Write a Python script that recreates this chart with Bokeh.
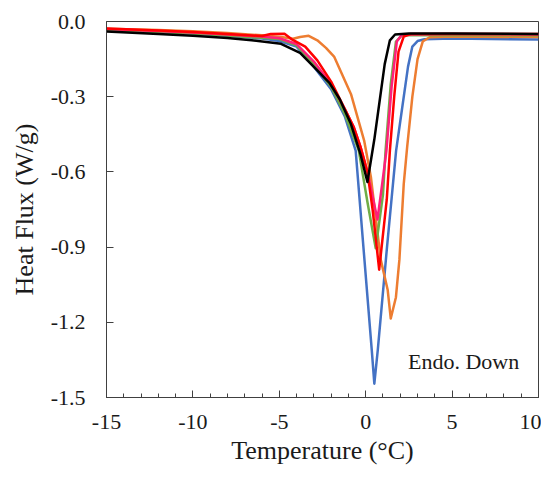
from bokeh.plotting import figure
from bokeh.models import Range1d, FixedTicker, PrintfTickFormatter, Label
from bokeh.embed import file_html
from bokeh.resources import INLINE

# ---- data ----
t_blue = [-15, -12, -10, -8, -6, -5, -4, -3, -2, -1.2, -0.58, -0.12, 0.35, 0.5, 0.7, 1.22, 1.76, 2.1, 2.45, 2.7, 3.0, 3.4, 5, 10]
hf_blue = [-0.035, -0.042, -0.048, -0.057, -0.068, -0.078, -0.1, -0.18, -0.27, -0.38, -0.515, -0.91, -1.31, -1.445, -1.31, -0.91, -0.515, -0.35, -0.18, -0.1, -0.078, -0.071, -0.068, -0.072]

t_orange = [-15, -12, -10, -8, -6, -4.8, -4.2, -3.8, -3.3, -2.8, -2.3, -1.83, -0.85, -0.09, 0.3, 0.87, 1.27, 1.45, 1.75, 1.95, 2.2, 2.4, 2.7, 3.0, 3.3, 3.7, 5, 10]
hf_orange = [-0.029, -0.034, -0.039, -0.046, -0.055, -0.063, -0.069, -0.062, -0.057, -0.075, -0.105, -0.14, -0.29, -0.475, -0.62, -0.95, -1.07, -1.185, -1.1, -0.95, -0.65, -0.5, -0.3, -0.15, -0.08, -0.063, -0.06, -0.062]

t_green = [-15, -12, -10, -8, -6, -5, -4, -3, -2, -1.2, -0.4, 0.1, 0.58, 1.0, 1.15, 1.45, 1.75, 2.1, 5, 10]
hf_green = [-0.033, -0.042, -0.048, -0.056, -0.065, -0.07, -0.095, -0.17, -0.26, -0.37, -0.515, -0.72, -0.905, -0.69, -0.515, -0.25, -0.08, -0.055, -0.055, -0.055]

t_pink = [-15, -12, -10, -8, -6, -5, -4, -3, -2, -1.2, -0.7, -0.3, 0.1, 0.68, 0.95, 1.2, 1.5, 1.8, 2.1, 5, 10]
hf_pink = [-0.03, -0.038, -0.044, -0.052, -0.06, -0.067, -0.09, -0.16, -0.25, -0.35, -0.42, -0.5, -0.6, -0.79, -0.65, -0.515, -0.26, -0.08, -0.052, -0.05, -0.052]

t_red = [-15, -12, -10, -8, -6, -5.5, -4.7, -4.3, -3.5, -2.8, -2, -1.2, -0.7, -0.3, 0.1, 0.4, 0.78, 1.22, 1.4, 1.65, 1.9, 2.2, 2.6, 5, 10]
hf_red = [-0.028, -0.036, -0.042, -0.05, -0.058, -0.05, -0.049, -0.07, -0.1, -0.155, -0.24, -0.35, -0.42, -0.5, -0.6, -0.75, -0.99, -0.71, -0.515, -0.3, -0.12, -0.06, -0.05, -0.05, -0.05]

t_black = [-15, -12, -10, -8, -6.6, -4.9, -3.8, -2.8, -2.1, -1.5, -0.85, -0.3, 0.1, 0.5, 0.8, 1.1, 1.4, 1.7, 2.5, 5, 10]
hf_black = [-0.04, -0.05, -0.057, -0.066, -0.075, -0.089, -0.125, -0.195, -0.245, -0.31, -0.41, -0.53, -0.64, -0.47, -0.32, -0.17, -0.075, -0.052, -0.048, -0.048, -0.05]

y_ticks = [0.0, -0.3, -0.6, -0.9, -1.2, -1.5]
x_ticks = [-15, -10, -5, 0, 5, 10]
x_minor = list(range(-15, 11))

FONT = "Liberation Serif"
AX = "#404040"
TXT = "#1a1a1a"

p = figure(width=541, height=469, output_backend="svg", toolbar_location=None,
           x_range=Range1d(-15, 10), y_range=Range1d(-1.5, 0.0),
           min_border_left=106, min_border_right=3, min_border_top=21, min_border_bottom=72)
p.grid.visible = False
p.outline_line_color = AX
p.outline_line_width = 1
p.background_fill_color = "white"
p.border_fill_color = "white"

series = [
    (t_blue, hf_blue, "#4472C4"),
    (t_orange, hf_orange, "#ED7D31"),
    (t_green, hf_green, "#70AD47"),
    (t_pink, hf_pink, "#FF1F7A"),
    (t_red, hf_red, "#FF0000"),
    (t_black, hf_black, "#000000"),
]
for xs, ys, c in series:
    p.line(xs, ys, line_color=c, line_width=2.5, line_join="round")

xa = p.xaxis[0]
xa.ticker = FixedTicker(ticks=x_ticks, minor_ticks=x_minor)
xa.formatter = PrintfTickFormatter(format="%d")
xa.axis_label = "Temperature (°C)"
ya = p.yaxis[0]
ya.ticker = FixedTicker(ticks=y_ticks)
ya.formatter = PrintfTickFormatter(format="%.1f")
ya.axis_label = "Heat Flux (W/g)"

for ax in (xa, ya):
    ax.axis_line_color = AX
    ax.major_tick_line_color = AX
    ax.minor_tick_line_color = AX
    ax.major_tick_in = 7
    ax.major_tick_out = 0
    ax.minor_tick_in = 4
    ax.minor_tick_out = 0
    ax.major_label_text_font = FONT
    ax.major_label_text_font_size = "22px"
    ax.major_label_text_color = TXT
    ax.axis_label_text_font = FONT
    ax.axis_label_text_font_size = "26px"
    ax.axis_label_text_font_style = "normal"
    ax.axis_label_text_color = TXT
ya.minor_tick_line_color = None
xa.major_label_standoff = 17
ya.major_label_standoff = 21
xa.axis_label_standoff = 4
ya.axis_label_standoff = 9

p.add_layout(Label(x=2.45, y=-1.356, text="Endo. Down", text_font=FONT,
                   text_font_size="22px", text_baseline="middle", text_color=TXT))

open("out.html", "w").write(file_html(p, INLINE))
